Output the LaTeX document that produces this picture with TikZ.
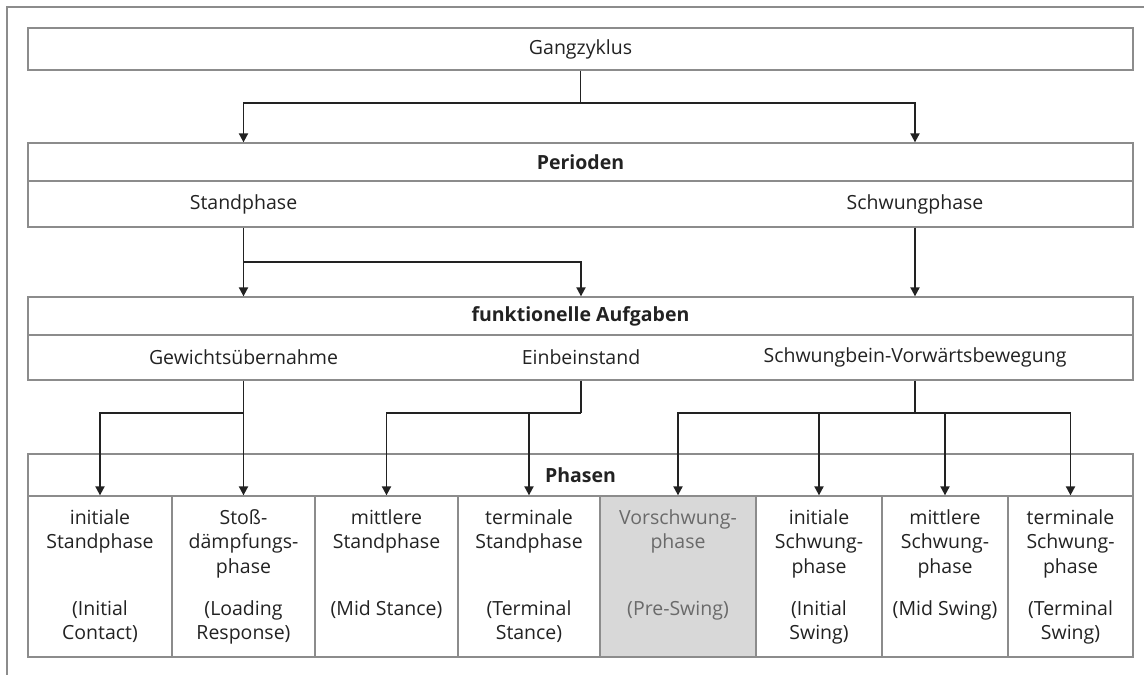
\documentclass[tikz,border=0pt]{standalone}
\usepackage{fontspec}
\setmainfont{Open Sans}
\usetikzlibrary{arrows.meta}
\definecolor{boxgray}{HTML}{8C8C8C}
\definecolor{inkc}{HTML}{222222}
\definecolor{cellfill}{HTML}{D8D8D8}
\definecolor{celltext}{HTML}{6A6A6A}
\begin{document}
\begin{tikzpicture}[x=1pt,y=-1pt,
  font=\fontsize{19.5}{24.5}\selectfont, text=inkc,
  box/.style={draw=boxgray, line width=1.3pt, inner sep=0pt, minimum width=1105pt},
  cell/.style={draw=boxgray, line width=1.3pt, inner sep=0pt, minimum height=161pt},
  conn/.style={draw=inkc, line width=1.9pt},
  arr/.style={conn, -{Triangle[width=9pt,length=9pt]}},
  ctext/.style={align=center, inner sep=0pt, anchor=north},
  hd/.style={font=\fontsize{19.5}{24.5}\selectfont\bfseries}]
\useasboundingbox (0,0) rectangle (1144,675);
\draw[draw=boxgray, line width=1.4pt] (7,675) -- (7,7) -- (1144,7);
% level 1
\node[box, minimum height=42pt] (gz) at (580.5,49) {Gangzyklus};
% level 2
\node[box, minimum height=38pt, hd] (perhead) at (580.5,162) {Perioden};
\node[box, minimum height=46pt] (perrow) at (580.5,204) {};
\node (stand) at (243.5,204) {Standphase};
\node (schwung) at (915,204) {Schwungphase};
% level 3
\node[box, minimum height=38pt, hd] (fahead) at (580.5,316) {funktionelle Aufgaben};
\node[box, minimum height=45pt] (farow) at (580.5,357.5) {};
\node (gew) at (243.5,357.5) {Gewichtsübernahme};
\node (ein) at (581,357.5) {Einbeinstand};
\node (sv) at (915,357.5) {Schwungbein-Vorwärtsbewegung};
% level 4
\node[box, minimum height=42pt, hd] (phhead) at (580.5,475) {Phasen};
\node[cell, minimum width=144pt] (c1) at (100,576.5) {};
\node[cell, minimum width=143pt] (c2) at (243.5,576.5) {};
\node[cell, minimum width=143pt] (c3) at (386.5,576.5) {};
\node[cell, minimum width=142pt] (c4) at (529,576.5) {};
\node[cell, minimum width=156pt, fill=cellfill] (c5) at (678,576.5) {};
\node[cell, minimum width=126pt] (c6) at (819,576.5) {};
\node[cell, minimum width=126pt] (c7) at (945,576.5) {};
\node[cell, minimum width=125pt] (c8) at (1070.5,576.5) {};
% cell texts
\node[ctext] (t1) at (100,506.85) {\strut initiale\\Standphase};
\node[ctext] (b1) at (100,597.85) {\strut (Initial\\Contact)};
\node[ctext] (t2) at (243.5,506.85) {\strut Stoß-\\dämpfungs-\\phase};
\node[ctext] (b2) at (243.5,597.85) {\strut (Loading\\Response)};
\node[ctext] (t3) at (386.5,506.85) {\strut mittlere\\Standphase};
\node[ctext] (b3) at (386.5,597.85) {\strut (Mid Stance)};
\node[ctext] (t4) at (529,506.85) {\strut terminale\\Standphase};
\node[ctext] (b4) at (529,597.85) {\strut (Terminal\\Stance)};
\node[ctext, text=celltext] (t5) at (678,506.85) {\strut Vorschwung-\\phase};
\node[ctext, text=celltext] (b5) at (678,597.85) {\strut (Pre-Swing)};
\node[ctext] (t6) at (819,506.85) {\strut initiale\\Schwung-\\phase};
\node[ctext] (b6) at (819,597.85) {\strut (Initial\\Swing)};
\node[ctext] (t7) at (945,506.85) {\strut mittlere\\Schwung-\\phase};
\node[ctext] (b7) at (945,597.85) {\strut (Mid Swing)};
\node[ctext] (t8) at (1070.5,506.85) {\strut terminale\\Schwung-\\phase};
\node[ctext] (b8) at (1070.5,597.85) {\strut (Terminal\\Swing)};
% junction levels
\coordinate (j1) at (0,103);
\coordinate (j2) at (0,262);
\coordinate (j3) at (0,413);
% connectors level 1 -> 2
\draw[conn] (gz.south) -- (gz.south |- j1);
\draw[arr] (gz.south |- j1) -| (stand |- perhead.north);
\draw[arr] (gz.south |- j1) -| (schwung |- perhead.north);
% level 2 -> 3
\draw[arr] (stand |- perrow.south) -- (stand |- fahead.north);
\draw[arr] (stand |- j2) -| (ein |- fahead.north);
\draw[arr] (schwung |- perrow.south) -- (schwung |- fahead.north);
% level 3 -> 4
\draw[arr] (gew |- farow.south) -- (c2.north);
\draw[arr] (gew |- j3) -| (c1.north);
\draw[conn] (ein |- farow.south) -- (ein |- j3);
\draw[arr] (ein |- j3) -| (c3.north);
\draw[arr] (c4.north |- j3) -- (c4.north);
\draw[conn] (sv |- farow.south) -- (sv |- j3);
\draw[arr] (sv |- j3) -| (c5.north);
\draw[arr] (sv |- j3) -| (c8.north);
\draw[arr] (c6.north |- j3) -- (c6.north);
\draw[arr] (c7.north |- j3) -- (c7.north);
\end{tikzpicture}
\end{document}
